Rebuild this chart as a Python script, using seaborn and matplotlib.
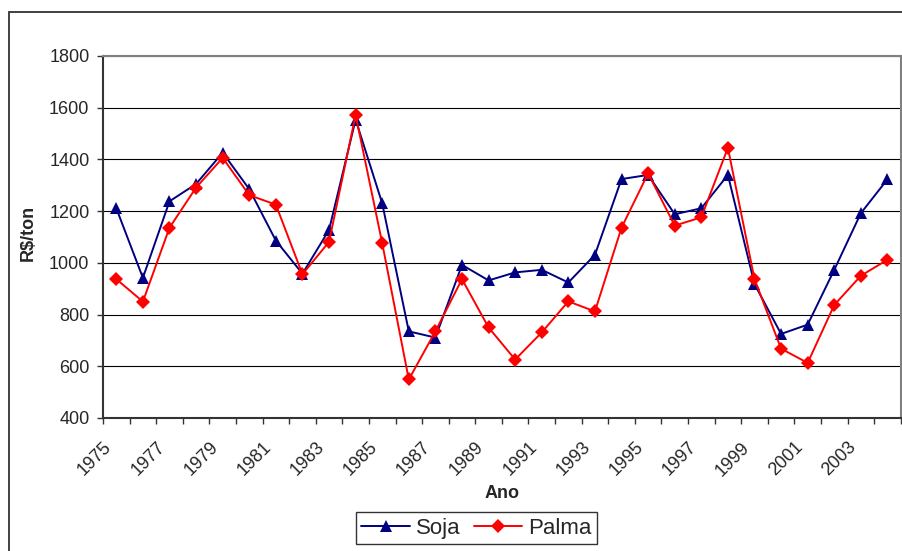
import numpy as np
import pandas as pd
import matplotlib
matplotlib.use("Agg")
import matplotlib.pyplot as plt
import matplotlib.transforms as mtransforms
import seaborn as sns
from matplotlib.patches import Rectangle

# dados (R$/ton)
anos = list(range(1975, 2005))
soja = [1211, 942, 1238, 1305, 1426, 1285, 1086, 958, 1127, 1554,
        1230, 735, 711, 992, 932, 963, 973, 924, 1031, 1324,
        1340, 1188, 1211, 1340, 918, 725, 761, 973, 1192, 1323]
palma = [937, 850, 1136, 1291, 1406, 1262, 1225, 956, 1081, 1572,
         1076, 549, 735, 937, 750, 626, 731, 851, 812, 1136,
         1346, 1144, 1176, 1445, 937, 668, 613, 837, 950, 1012]
rotulos_x = ["1975", "1977", "1979", "1981", "1983", "1985", "1987", "1989",
             "1991", "1993", "1995", "1997", "1999", "2001", "2003"]
ticks_y = [400, 600, 800, 1000, 1200, 1400, 1600, 1800]

sns.set_style("white")
plt.rcParams["font.family"] = ["Liberation Sans", "DejaVu Sans"]

df = pd.DataFrame({"Ano": anos, "Soja": soja, "Palma": palma})

fig = plt.figure(figsize=(9.02, 5.51), dpi=100)
ax = fig.add_axes([0.1142, 0.2414, 0.8844, 0.6570])

sns.lineplot(data=df, x="Ano", y="Soja", color="#000080", marker="^",
             markersize=9, markeredgewidth=0, linewidth=1.4, label="Soja", ax=ax)
sns.lineplot(data=df, x="Ano", y="Palma", color="#FF0000", marker="D",
             markersize=7, markeredgewidth=0, linewidth=1.4, label="Palma", ax=ax)

# eixo de categorias: marcas entre os anos
limites = np.arange(anos[0] - 0.5, anos[-1] + 1, 1)
ax.set_xlim(limites[0], limites[-1])
ax.set_xticks(limites)
labs = [""] * len(limites)
labs[0:2 * len(rotulos_x):2] = rotulos_x
ax.set_xticklabels(labs, rotation=45, ha="right", va="top",
                   rotation_mode="anchor", fontsize=13)
desloc = mtransforms.ScaledTranslation(-0.04, -0.01, fig.dpi_scale_trans)
for t in ax.get_xticklabels():
    t.set_transform(t.get_transform() + desloc)

ax.set_ylim(400, 1800)
ax.set_yticks(ticks_y)
ax.set_yticklabels([str(v) for v in ticks_y], fontsize=13)

ax.tick_params(axis="x", direction="out", length=4, width=1, color="#333333",
               pad=11, bottom=True)
ax.tick_params(axis="y", direction="out", length=4.3, width=1, color="#333333",
               pad=5.5, left=True)

ax.yaxis.grid(True, color="black", linewidth=0.8)
ax.xaxis.grid(False)
ax.set_axisbelow(True)

for s in ["left", "bottom"]:
    ax.spines[s].set_color("#333333")
    ax.spines[s].set_linewidth(1.5)
for s in ["top", "right"]:
    ax.spines[s].set_color("#808080")
    ax.spines[s].set_linewidth(1.5)

ax.set_xlabel("Ano", fontweight="bold", fontsize=13)
ax.set_ylabel("R$/ton", fontweight="bold", fontsize=13)
ax.xaxis.set_label_coords(0.5, -0.186)
ax.yaxis.set_label_coords(-0.0827, 0.51)

handles, labels = ax.get_legend_handles_labels()
ax.get_legend().remove()
leg = fig.legend(handles, labels, loc="center", bbox_to_anchor=(0.528, 0.0417),
                 ncol=2, fontsize=16, frameon=True, fancybox=False,
                 edgecolor="black", handlelength=2.2, handletextpad=0.25,
                 columnspacing=0.6, borderpad=0.25, borderaxespad=0)
leg.get_frame().set_linewidth(1.0)

# moldura da area do grafico
fig.add_artist(Rectangle((9 / 902, -0.1), 1.2, 0.9782 + 0.1,
                         transform=fig.transFigure, fill=False,
                         edgecolor="#333333", linewidth=1.3))

fig.savefig("out.png", dpi=100)
